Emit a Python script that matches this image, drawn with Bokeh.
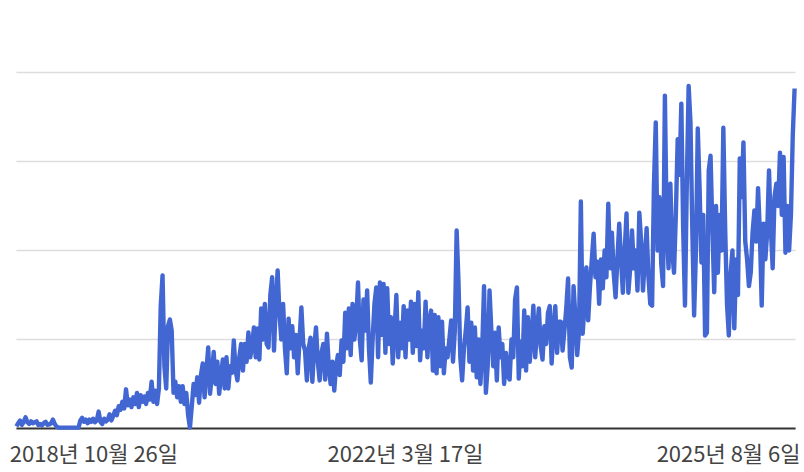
import pandas as pd
from bokeh.plotting import figure
from bokeh.models import ColumnDataSource, Range1d, LabelSet
from bokeh.core.properties import value
from bokeh.embed import file_html
from bokeh.resources import INLINE

# ---- data (weekly values) ----
start_date = "2018-02-15"
step_days = 7
values = [
    0.5, 1.2, 1.8, 0.8, 1.5, 2.5, 1.4, 1.0, 1.6, 1.2,
    1.4, 1.6, 0.8, 1.0, 0.7, 1.2, 1.5, 0.8, 0.9, 1.2,
    2.0, 1.0, 0.4, 0.2, 0.2, 0.2, 0.2, 0.2, 0.2, 0.2,
    0.2, 0.2, 0.2, 0.2, 0.2, 1.8, 2.4, 1.5, 2.0, 1.2,
    2.0, 1.5, 2.2, 1.4, 1.8, 3.8, 1.5, 1.0, 2.2, 1.6,
    2.0, 3.2, 1.8, 2.8, 4.0, 3.0, 5.0, 4.2, 6.0, 4.5,
    8.8, 5.2, 6.5, 4.8, 7.0, 5.5, 8.0, 4.8, 7.5, 6.0,
    7.2, 5.5, 8.0, 6.5, 10.5, 6.0, 8.5, 5.5, 9.0, 27.5,
    34.4, 14.0, 9.0, 23.0, 24.5, 22.0, 8.0, 10.5, 7.0, 9.5,
    6.0, 9.5, 5.5, 8.0, 3.0, 0.2, 5.0, 10.0, 7.5, 11.5,
    5.8, 12.0, 14.6, 7.0, 13.0, 18.2, 7.8, 12.0, 17.2, 10.0,
    15.0, 7.8, 12.0, 15.5, 9.0, 16.0, 9.0, 14.0, 12.5, 19.8,
    13.0, 10.8, 16.0, 19.0, 13.0, 19.0, 15.0, 21.6, 16.0, 18.5,
    22.7, 16.0, 22.5, 15.5, 27.0, 20.0, 28.0, 19.0, 18.2, 30.0,
    34.0, 17.5, 28.0, 35.5, 26.0, 20.0, 28.0, 18.0, 12.4, 24.7,
    18.0, 23.0, 16.0, 21.0, 12.4, 20.0, 27.2, 19.0, 17.5, 10.8,
    18.0, 20.4, 10.5, 18.0, 22.7, 15.0, 10.8, 17.0, 19.0, 11.0,
    21.3, 14.0, 10.0, 15.0, 8.5, 14.0, 16.5, 12.0, 19.8, 15.0,
    26.0, 18.0, 27.0, 16.5, 28.0, 20.0, 24.0, 32.8, 20.0, 15.3,
    29.0, 22.0, 31.0, 18.0, 10.3, 20.0, 28.0, 31.7, 16.0, 32.8,
    21.0, 32.5, 17.0, 31.5, 19.0, 25.0, 14.6, 22.0, 30.0, 16.0,
    23.8, 18.0, 27.5, 16.0, 26.5, 20.0, 28.5, 17.0, 28.0, 18.5,
    30.6, 15.3, 22.0, 18.0, 28.5, 16.0, 24.0, 26.5, 13.0, 25.5,
    12.4, 25.0, 14.0, 24.0, 12.4, 18.0, 16.0, 20.0, 24.3, 15.0,
    22.0, 44.5, 33.0, 16.0, 10.8, 18.0, 22.0, 27.2, 15.0, 23.8,
    13.0, 22.7, 11.5, 20.0, 10.0, 18.0, 32.0, 8.0, 14.0, 31.0,
    22.0, 14.0, 21.5, 10.8, 22.7, 16.0, 19.0, 10.0, 17.0, 12.0,
    11.0, 20.0, 16.0, 29.0, 31.7, 11.2, 19.5, 14.0, 26.5, 13.0,
    25.0, 15.0, 20.5, 27.6, 16.0, 22.0, 27.0, 18.5, 15.5, 23.0,
    19.0, 26.0, 27.5, 14.6, 22.0, 27.5, 17.0, 24.0, 24.0, 17.5,
    22.0, 27.0, 33.7, 16.0, 13.7, 32.0, 25.0, 16.5, 22.0, 51.0,
    21.3, 28.0, 36.2, 24.3, 32.0, 38.0, 43.8, 34.0, 37.5, 28.0,
    38.0, 31.5, 40.0, 34.0, 50.5, 36.0, 44.0, 34.8, 29.5, 38.0,
    46.0, 38.0, 30.5, 40.0, 48.3, 30.5, 36.0, 44.5, 36.0, 40.0,
    31.0, 48.5, 42.0, 31.0, 38.0, 45.0, 34.0, 28.0, 27.6, 54.6,
    68.8, 40.0, 52.0, 37.0, 32.0, 74.8, 45.0, 36.0, 55.0, 40.0,
    35.0, 48.0, 65.0, 57.0, 73.0, 45.0, 27.6, 55.0, 77.0, 68.8,
    45.0, 25.4, 40.0, 67.4, 54.0, 37.3, 48.0, 20.9, 21.5, 58.0,
    61.3, 45.0, 30.6, 50.0, 35.0, 48.0, 40.0, 67.6, 45.0, 28.0,
    20.9, 35.0, 40.0, 22.5, 38.0, 30.0, 60.7, 52.0, 64.3, 42.0,
    38.0, 32.0, 35.0, 44.0, 49.0, 42.0, 54.0, 44.0, 27.6, 46.0,
    38.0, 44.0, 58.0, 45.0, 36.0, 52.0, 55.0, 50.0, 62.0, 48.0,
    61.0, 39.5, 50.0, 40.0, 48.0, 65.8, 76.4,
]
dates = pd.date_range(start=start_date, periods=len(values), freq=f"{step_days}D")

# chart area (gridlines / baseline span this) and the whole visible window
axis_start = "2018-02-15"
axis_end = "2026-04-20"
view_start = "2017-12-16"
view_end = "2026-05-24"
y_min = -9.89   # room below the baseline for the date labels
y_max = 96.18
y_grid = [20, 40, 60, 80]

# the first label sits a little right of its date, as in the reference
tick_dates = ["2018-12-09", "2022-03-17", "2025-08-06"]
tick_labels = ["2018년 10월 26일", "2022년 3월 17일", "2025년 8월 6일"]
label_level = -5.35  # where the date labels sit, in value units below the baseline

source = ColumnDataSource(data=dict(date=dates, value=values))
tick_source = ColumnDataSource(data=dict(
    date=pd.to_datetime(tick_dates),
    label=tick_labels,
    y=[label_level] * len(tick_labels),
))
grid_source = ColumnDataSource(data=dict(
    x0=[pd.Timestamp(axis_start)] * len(y_grid),
    x1=[pd.Timestamp(axis_end)] * len(y_grid),
    y=y_grid,
))

p = figure(
    width=804, height=472,
    x_axis_type="datetime", x_axis_location=None, y_axis_location=None,
    x_range=Range1d(pd.Timestamp(view_start), pd.Timestamp(view_end)),
    y_range=Range1d(y_min, y_max),
    output_backend="svg", toolbar_location=None,
    min_border_left=0, min_border_right=0, min_border_top=0, min_border_bottom=0,
)
p.outline_line_color = None
p.background_fill_color = "white"
p.border_fill_color = "white"
for g in p.grid:
    g.visible = False

# horizontal gridlines
p.segment(x0="x0", y0="y", x1="x1", y1="y", source=grid_source,
          line_color="#dddddd", line_width=1.5)

# baseline (x axis line)
p.segment(x0=[pd.Timestamp(axis_start)], y0=[0], x1=[pd.Timestamp(axis_end)], y1=[0],
          line_color="#333333", line_width=1.8)

p.line("date", "value", source=source, line_color="#4267d2", line_width=4.4,
       line_join="round")

labels = LabelSet(x="date", y="y", text="label", source=tick_source,
                  text_align="center", text_baseline="middle",
                  text_font=value("Noto Sans CJK KR"), text_font_size="22px",
                  text_color="#444444")
p.add_layout(labels)

open("out.html", "w").write(file_html(p, INLINE))
